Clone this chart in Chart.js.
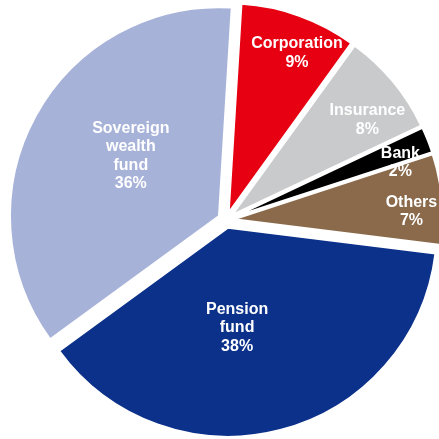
<!DOCTYPE html>
<html>
<head>
<meta charset="utf-8">
<script src="https://cdn.jsdelivr.net/npm/chart.js@4"></script>
<style>
  html, body { margin: 0; padding: 0; background: #fff; }
  #holders_chart { display: block; }
</style>
</head>
<body>
<canvas id="holders_chart" width="439" height="439"></canvas>
<script>
// investor types, clockwise from 12 o'clock
const holder_names = [
  ["Corporation"],
  ["Insurance"],
  ["Bank"],
  ["Others"],
  ["Pension", "fund"],
  ["Sovereign", "wealth", "fund"],
];
const holder_share = [9, 8, 2, 7, 38, 36];
const holder_colors = ["#e60012", "#c9cacb", "#000000", "#8a6a4b", "#0b318b", "#a7b2d8"];

// label placement: fraction of radius out from the slice tip, and a small turn in degrees
const label_dist = [0.83, 0.79, 0.84, 0.85, 0.48, 0.51];
const label_turn = [3.5, 4.7, 3.7, 3.1, 9.3, 5.5];

// every slice is pulled out from the centre by the same amount
const EXPLODE = 8;
const arc_draw = Chart.ArcElement.prototype.draw;
Chart.ArcElement.prototype.draw = function (ctx) {
  const mid = (this.startAngle + this.endAngle) / 2;
  ctx.save();
  ctx.translate(Math.cos(mid) * EXPLODE, Math.sin(mid) * EXPLODE);
  arc_draw.call(this, ctx);
  ctx.restore();
};

const slice_labels = {
  id: "slice_labels",
  afterDatasetsDraw(chart) {
    const ctx = chart.ctx;
    const arcs = chart.getDatasetMeta(0).data;
    ctx.save();
    ctx.fillStyle = "#ffffff";
    ctx.font = "bold 16px 'Liberation Sans', Arial, sans-serif";
    ctx.textAlign = "center";
    ctx.textBaseline = "middle";
    arcs.forEach((arc, i) => {
      const p = arc.getProps(["x", "y", "startAngle", "endAngle", "outerRadius"], true);
      const mid = (p.startAngle + p.endAngle) / 2;
      const turned = mid + (label_turn[i] * Math.PI) / 180;
      const cx = p.x + Math.cos(mid) * EXPLODE + Math.cos(turned) * label_dist[i] * p.outerRadius;
      const cy = p.y + Math.sin(mid) * EXPLODE + Math.sin(turned) * label_dist[i] * p.outerRadius;
      const lines = holder_names[i].concat([holder_share[i] + "%"]);
      const lh = 18.5;
      lines.forEach((txt, k) => {
        ctx.fillText(txt, cx, cy + (k - (lines.length - 1) / 2) * lh);
      });
    });
    ctx.restore();
  },
};

const holders_chart = new Chart(document.getElementById("holders_chart"), {
  type: "pie",
  data: {
    labels: holder_names.map((n) => n.join(" ")),
    datasets: [
      {
        data: holder_share,
        backgroundColor: holder_colors,
        borderColor: "#ffffff",
        borderWidth: 2,
        offset: 0,
        hoverOffset: 0,
      },
    ],
  },
  options: {
    responsive: false,
    animation: false,
    rotation: 3.5,
    radius: 209,
    layout: {
      padding: { left: 13, right: 0, top: 1, bottom: 0 },
    },
    plugins: {
      legend: { display: false },
      tooltip: { enabled: false },
    },
  },
  plugins: [slice_labels],
});
</script>
</body>
</html>
